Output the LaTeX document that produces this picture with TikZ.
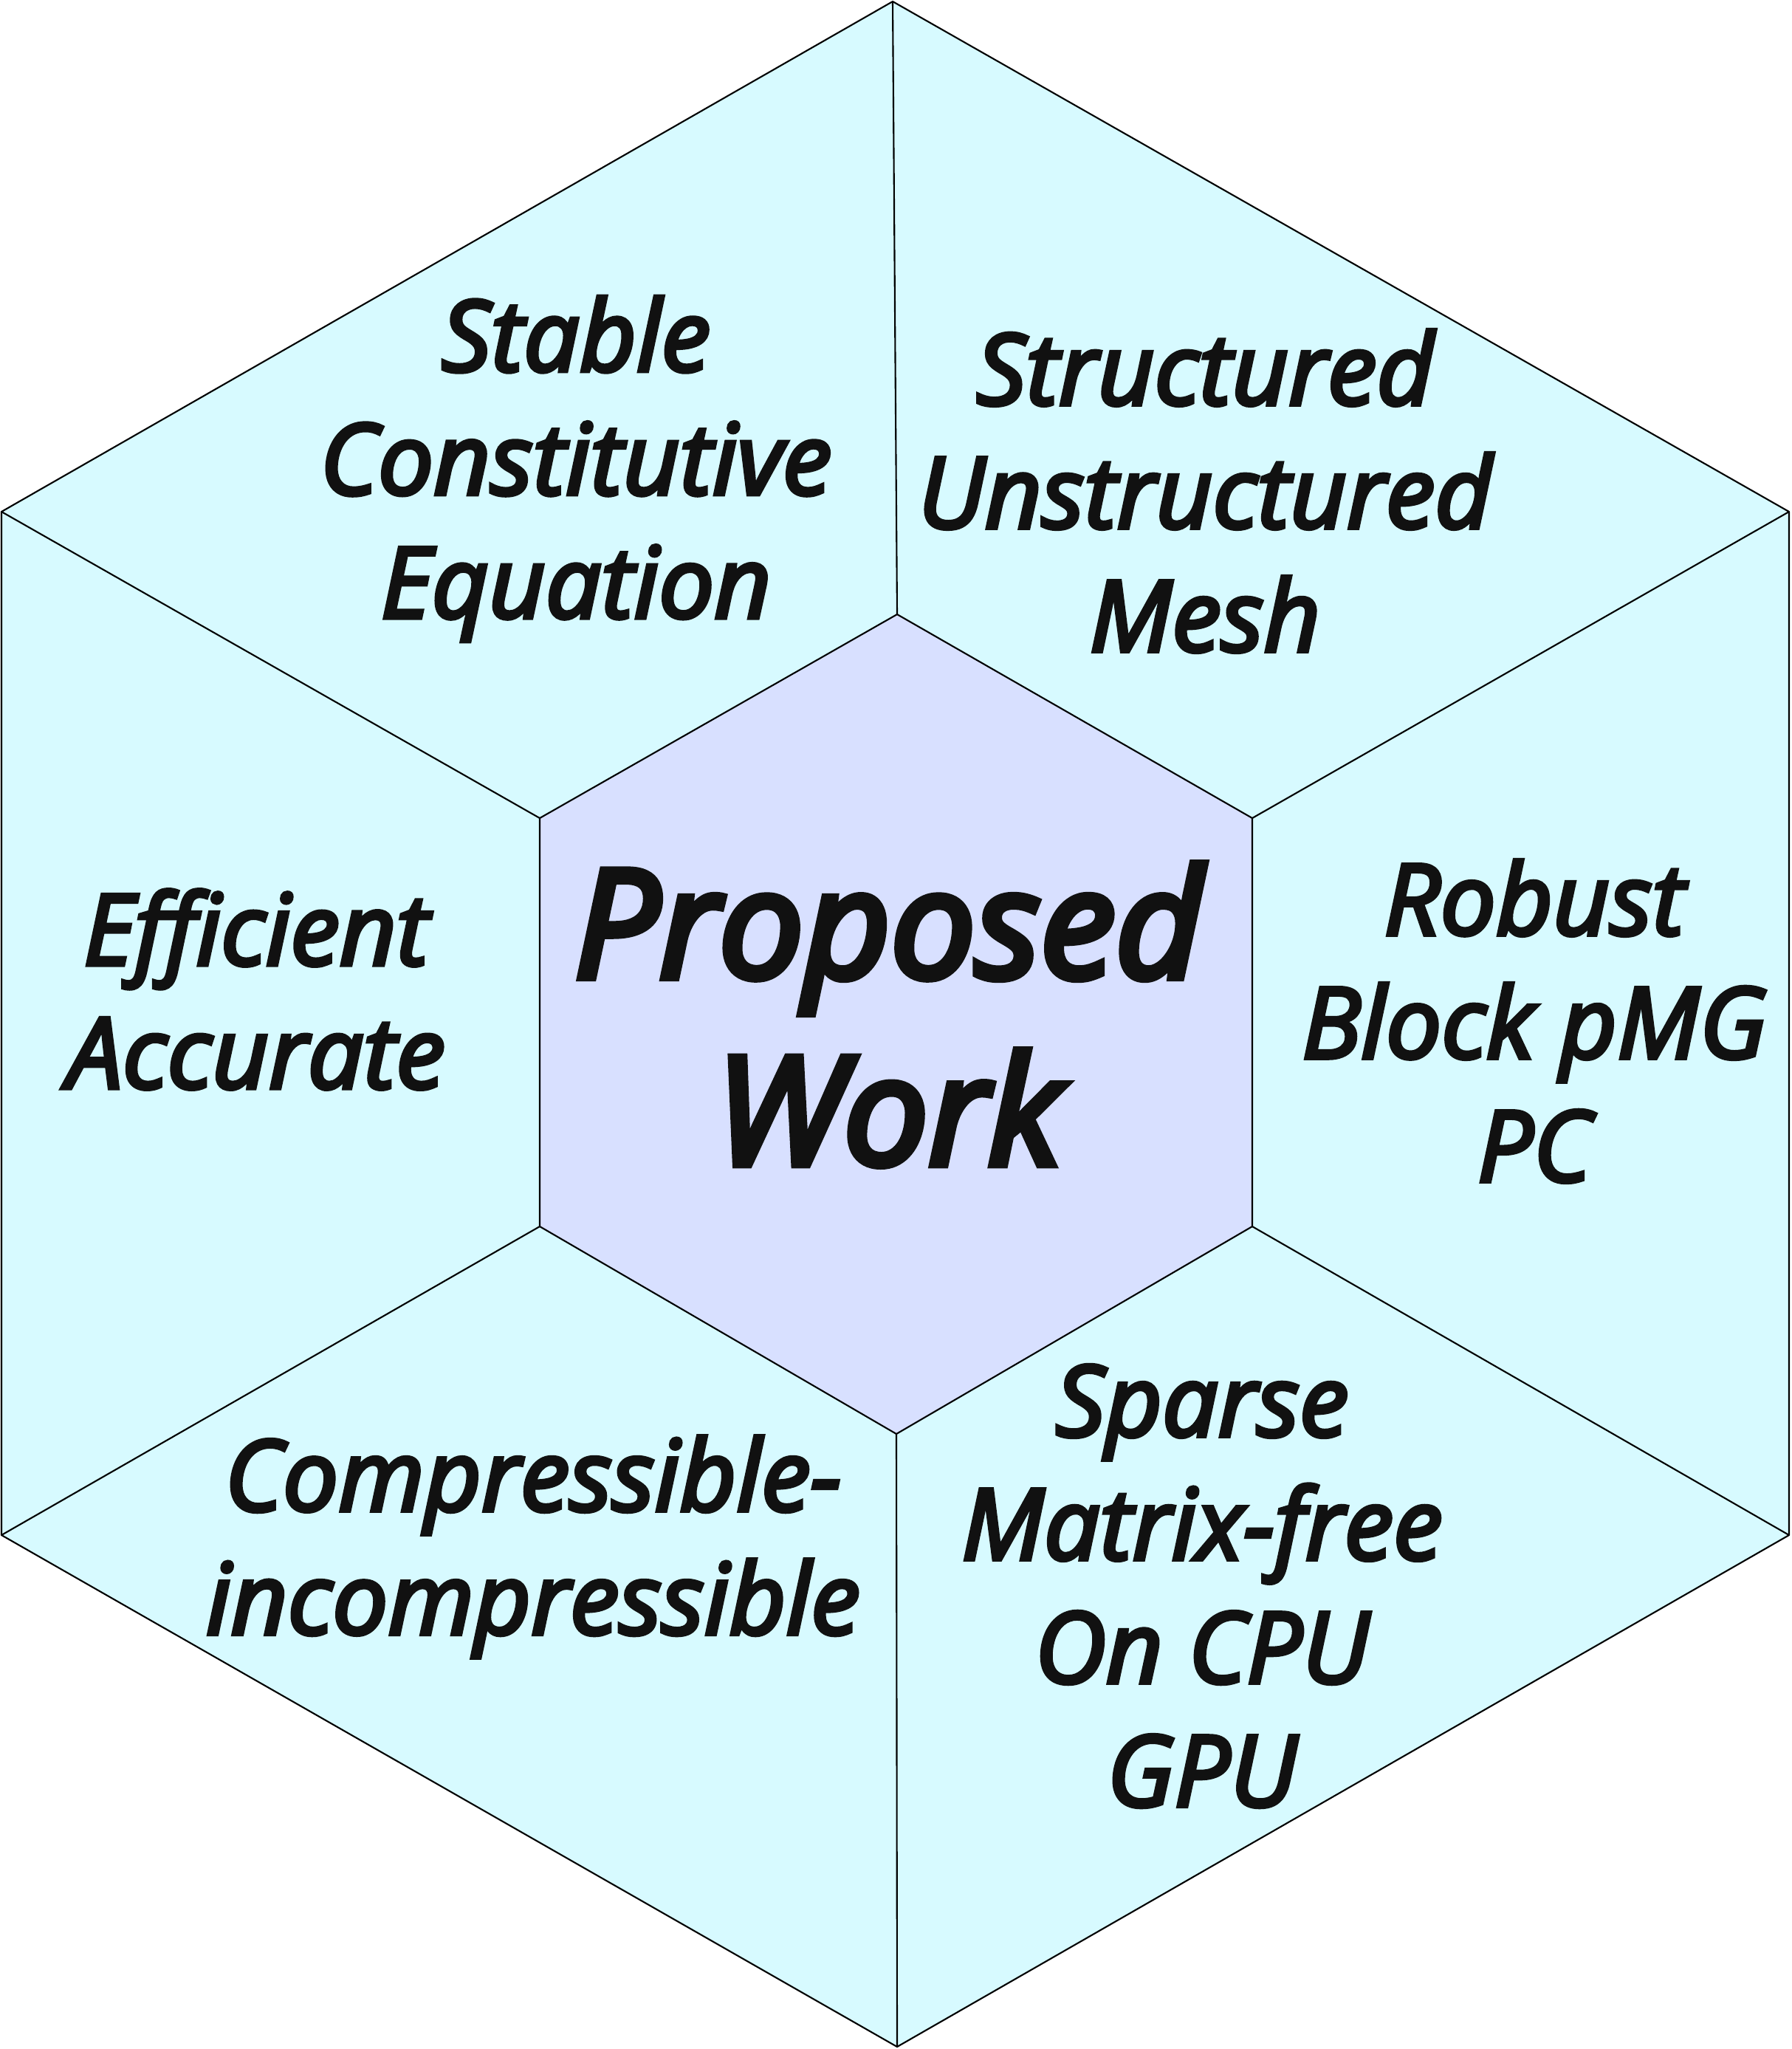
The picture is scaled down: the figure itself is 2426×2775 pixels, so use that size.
\documentclass[tikz,border=0pt]{standalone}
\usepackage{fontspec}
\newfontfamily\labelfont{Open Sans}[FakeBold=4, ItalicFeatures={FakeBold=4}]
\newfontfamily\bigfont{Open Sans}[FakeBold=5, ItalicFeatures={FakeBold=5}]
\definecolor{outerfill}{HTML}{D7FAFF}
\definecolor{innerfill}{HTML}{D8E0FF}
\definecolor{textcol}{HTML}{111111}
\tikzset{
  seg/.style={draw=black, line width=0.6pt, line join=round},
  lab/.style={align=center, inner sep=0pt, text=textcol,
    font=\labelfont\itshape\fontsize{38}{47.5}\selectfont},
  biglab/.style={align=center, inner sep=0pt, text=textcol,
    font=\bigfont\itshape\fontsize{58}{72}\selectfont}
}
\begin{document}
\begin{tikzpicture}[x=0.01cm,y=-0.01cm]
\useasboundingbox (0,0) rectangle (2426,2775);
% outer hexagon vertices
\coordinate (oT) at (1209,2);
\coordinate (oUR) at (2423,693);
\coordinate (oLR) at (2423,2079);
\coordinate (oB) at (1215,2772);
\coordinate (oLL) at (2,2079);
\coordinate (oUL) at (2,693);
% inner hexagon vertices
\coordinate (iT) at (1215,832);
\coordinate (iUR) at (1696,1108);
\coordinate (iLR) at (1696,1661);
\coordinate (iB) at (1214,1942);
\coordinate (iLL) at (731,1661);
\coordinate (iUL) at (731,1108);
\fill[outerfill] (oT) -- (oUR) -- (oLR) -- (oB) -- (oLL) -- (oUL) -- cycle;
\draw[seg, fill=innerfill] (iT) -- (iUR) -- (iLR) -- (iB) -- (iLL) -- (iUL) -- cycle;
\draw[seg] (oT) -- (iT);
\draw[seg] (oUR) -- (iUR);
\draw[seg] (oLR) -- (iLR);
\draw[seg] (oB) -- (iB);
\draw[seg] (oLL) -- (iLL);
\draw[seg] (oUL) -- (iUL);
\draw[seg] (oT) -- (oUR) -- (oLR) -- (oB) -- (oLL) -- (oUL) -- cycle;
% labels
\node[lab] (stable) at (780,635) {Stable\\Constitutive\\Equation};
\node[lab] (mesh) at (1632,665) {Structured\\Unstructured\\Mesh};
\node[lab] (robust) at (2078,1383) {Robust\\Block pMG\\PC};
\node[lab] (eff) at (347,1340) {Efficient\\Accurate};
\node[lab] (comp) at (722,2095) {Compressible-\\incompressible};
\node[lab] (sparse) at (1628,2148) {Sparse\\Matrix-free\\On CPU\\GPU};
\node[biglab] (prop) at (1203,1374) {Proposed\\Work};
\end{tikzpicture}
\end{document}
